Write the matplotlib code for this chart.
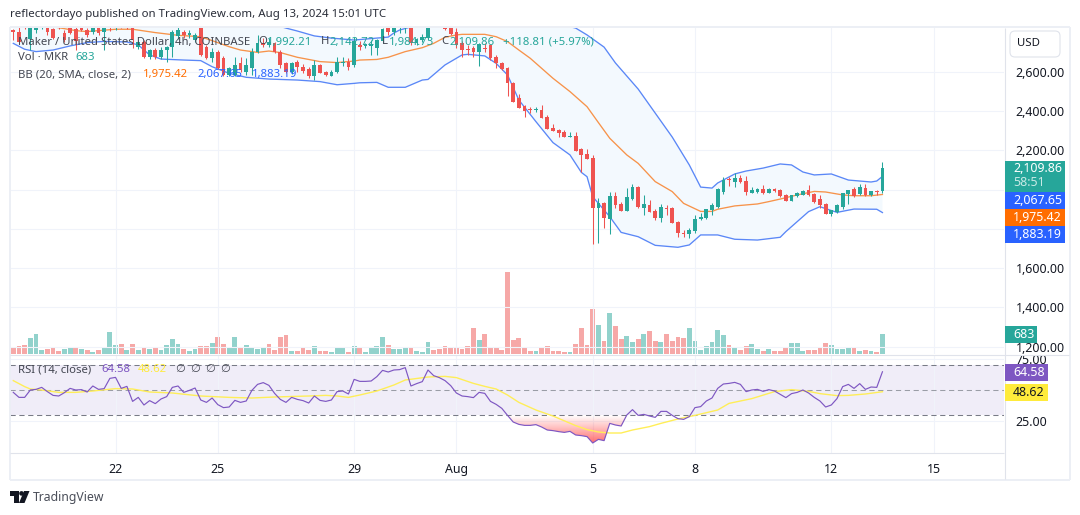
import numpy as np
import matplotlib
matplotlib.use('Agg')
import matplotlib.pyplot as plt
from matplotlib.patches import Rectangle, FancyBboxPatch, Polygon, Circle
from matplotlib.colors import LinearSegmentedColormap

plt.rcParams['font.family'] = ['Noto Sans', 'DejaVu Sans']

# MKR/USD 4h candles
opens = [2812,2806,2835,2767,2814,2825,2822,2817,2840,2797,
         2822,2817,2822,2814,2802,2822,2806,2832,2825,2835,
         2834,2828,2729,2755,2675,2712,2675,2712,2729,2784,
         2805,2788,2763,2822,2729,2670,2704,2670,2585,2585,
         2644,2602,2618,2704,2750,2738,2746,2704,2644,2602,
         2650,2627,2613,2580,2636,2602,2580,2602,2644,2650,
         2635,2740,2735,2733,2721,2760,2823,2806,2822,2822,
         2832,2750,2763,2772,2850,2845,2828,2822,2806,2746,
         2716,2720,2704,2722,2738,2675,2647,2619,2546,2466,
         2426,2408,2404,2406,2372,2314,2304,2292,2270,2275,
         2207,2182,2161,1908,1930,1849,1968,1927,1893,1954,
         2015,1908,1922,1893,1857,1906,1908,1837,1780,1774,
         1790,1849,1857,1896,1913,1990,2053,2041,2058,2046,
         1985,1990,2003,1985,2002,1998,1973,1944,1969,1974,
         1998,1978,1951,1925,1876,1886,1910,1978,2003,1978,
         2007,1971,1992,1992.21]
highs = [2820,2830,2840,2835,2831,2840,2830,2826,2848,2815,
         2835,2830,2828,2825,2830,2832,2830,2840,2845,2840,
         2842,2835,2760,2765,2715,2720,2725,2735,2812,2828,
         2815,2815,2800,2830,2740,2720,2712,2680,2625,2678,
         2678,2670,2720,2788,2775,2775,2755,2712,2650,2650,
         2660,2640,2625,2661,2640,2606,2610,2678,2678,2670,
         2780,2760,2750,2763,2768,2825,2835,2840,2840,2840,
         2845,2775,2795,2835,2860,2855,2835,2830,2822,2760,
         2738,2735,2750,2746,2745,2685,2652,2628,2550,2488,
         2432,2423,2420,2432,2379,2335,2308,2304,2296,2296,
         2212,2207,2177,1956,1935,1990,1990,1935,2007,2029,
         2020,1973,1947,1900,1925,1922,1912,1842,1794,1802,
         1871,1879,1900,1930,2010,2066,2066,2083,2075,2070,
         2015,2007,2024,2010,2007,2002,1977,1975,1990,1998,
         2024,1982,1971,1930,1897,1925,1985,2000,2015,2029,
         2027,1995,2000,2142.72]
lows = [2762,2745,2818,2712,2797,2820,2789,2768,2818,2755,
        2792,2712,2808,2780,2795,2789,2712,2810,2815,2822,
        2820,2720,2715,2670,2665,2668,2668,2652,2675,2770,
        2775,2775,2755,2680,2665,2652,2615,2580,2578,2578,
        2598,2585,2585,2695,2725,2725,2695,2618,2595,2590,
        2600,2593,2568,2559,2595,2578,2578,2595,2630,2610,
        2625,2710,2720,2687,2687,2750,2789,2789,2797,2797,
        2740,2738,2755,2765,2840,2830,2815,2790,2720,2675,
        2687,2675,2632,2704,2661,2622,2612,2479,2445,2415,
        2369,2392,2398,2365,2310,2298,2267,2268,2268,2198,
        2092,2155,1721,1729,1806,1772,1908,1890,1890,1947,
        1905,1871,1885,1845,1837,1871,1830,1760,1757,1755,
        1777,1845,1850,1871,1905,1978,2018,2015,2035,1973,
        1983,1985,1978,1984,1990,1965,1940,1940,1961,1971,
        1970,1932,1908,1875,1865,1882,1903,1927,1965,1973,
        1970,1967,1973,1984.73]
closes = [2805,2755,2826,2822,2822,2830,2806,2772,2830,2763,
          2797,2760,2815,2789,2822,2800,2822,2824,2838,2827,
          2826,2763,2754,2678,2712,2675,2712,2729,2806,2814,
          2788,2797,2789,2687,2670,2704,2618,2585,2618,2636,
          2610,2636,2704,2746,2738,2755,2704,2636,2602,2644,
          2627,2607,2580,2636,2597,2585,2602,2652,2652,2627,
          2760,2725,2742,2741,2763,2817,2806,2823,2826,2828,
          2746,2770,2780,2828,2845,2840,2818,2794,2738,2712,
          2712,2704,2743,2718,2670,2644,2615,2546,2449,2418,
          2403,2404,2408,2367,2311,2301,2290,2270,2274,2199,
          2177,2156,1908,1930,1854,1968,1922,1893,1964,2015,
          1910,1927,1888,1857,1910,1902,1832,1777,1776,1794,
          1850,1859,1900,1921,2003,2049,2048,2058,2038,1986,
          1998,2003,1985,2005,1995,1969,1944,1971,1981,1995,
          1974,1937,1920,1878,1896,1922,1984,1998,1969,2012,
          1973,1993,1988,2109.86]

# Bollinger bands, read at turning points
upper_idx = [0,20,45,46,48,50,53,56,60,64,66,67,68,70,72,85,96,99,101,104,106,110,116,119,121,123,124,127,129,132,135,137,139,141,144,147,151,152,153]
upper_val = [2960,2950,2850,2840,2824,2809,2784,2773,2763,2773,2778,2799,2814,2830,2840,2900,2845,2824,2789,2727,2646,2513,2268,2126,2013,2008,2034,2080,2095,2110,2131,2126,2090,2075,2080,2049,2039,2044,2067.65]
basis_idx = [0,5,9,11,13,15,18,21,25,29,33,35,38,40,43,45,47,50,54,57,60,61,64,66,69,72,74,76,78,79,83,85,87,89,91,93,95,98,101,103,105,108,110,113,116,118,121,123,124,127,131,133,135,138,141,143,146,148,151,153]
basis_val = [2860,2840,2821,2811,2806,2811,2818,2818,2801,2787,2780,2760,2729,2712,2700,2707,2699,2675,2653,2648,2656,2661,2664,2675,2704,2724,2746,2777,2789,2792,2792,2780,2755,2712,2670,2619,2568,2500,2423,2342,2262,2177,2134,2041,1990,1930,1889,1889,1900,1917,1927,1939,1952,1973,1991,1988,1973,1969,1969,1975.42]
lower_idx = [0,2,4,7,10,13,16,20,22,24,26,30,33,35,38,41,45,50,54,57,60,61,64,66,69,72,73,76,79,80,83,85,87,89,92,95,98,100,101,102,105,107,110,113,117,119,121,123,124,127,131,135,136,138,140,142,145,148,152,153]
lower_val = [2746,2716,2704,2712,2733,2750,2756,2753,2738,2687,2666,2661,2658,2627,2593,2573,2564,2559,2551,2535,2542,2545,2547,2522,2522,2559,2562,2636,2687,2690,2682,2644,2585,2457,2347,2240,2177,2088,2066,1964,1862,1782,1760,1716,1706,1718,1769,1769,1769,1747,1743,1757,1786,1837,1888,1913,1884,1901,1900,1883.19]

volume = [205,274,308,547,684,137,171,205,103,171,
          239,239,171,137,68,137,205,752,308,342,
          137,342,137,239,171,205,137,308,513,342,
          171,103,171,274,274,376,581,342,239,581,
          205,308,239,171,205,342,137,581,650,103,
          103,205,137,274,103,103,68,239,205,68,
          274,205,68,205,274,581,308,171,171,239,
          205,103,68,410,137,171,274,239,239,171,
          274,889,479,684,205,239,137,2804,479,547,
          239,103,103,205,274,103,103,68,68,342,
          889,308,1539,992,445,1402,958,513,616,410,
          513,684,787,445,410,684,445,581,547,889,
          445,137,274,410,821,650,308,239,137,274,
          342,171,103,171,103,103,205,376,376,103,
          137,137,205,376,308,171,171,239,205,103,
          137,103,68,683]
volume_dir = ''.join(['ddduuudddu','udududuuud','udududuuuu','duuddudduu','duuuuddddu',
                      'dddudduuud','uduuuuduuu','duuudddddd','dduddddddd','ddudddddud',
                      'dddududduu','dudduddddu','uuuuuududd','uududdduuu','dddduuuudu','dudu'])

rsi = [48.1,44.1,44.1,50,50.5,52.1,48.7,45.7,45.2,47.9,
       51.3,50,50.3,48.4,53.2,50.5,51.1,59.3,60.1,51.3,
       52.9,40.9,44.1,38,41.5,39.1,42.8,44.7,52.1,53.2,
       48.1,49.7,51.6,42,40.1,43.6,38.3,35.9,36.4,41.7,
       40.1,41.2,49.7,54.5,55.9,53.7,47.3,42.5,40.1,44.1,
       42.5,41.5,39.6,45.2,41.7,40.9,42,48.7,49.2,46.8,
       58.5,56.9,56.9,57.2,60.7,65.7,64.4,66,66.3,67.9,
       53.2,55.1,56.7,66,61.5,59.9,57.5,53.5,47.6,45.2,
       44.7,43.9,48.1,47.3,40.9,38.5,35.3,29.7,24.4,22.5,
       21.7,21.7,22.3,20.4,18,17.5,16.7,16.1,16.9,14,
       13.5,12.7,7.6,10.5,9.5,23.3,22,21.2,30,34.3,
       29.7,30.5,29.2,28.1,32.9,32.9,29.7,27.1,26.5,28.7,
       35.9,36.7,41.2,43.6,51.3,54.8,55.3,56.1,54.5,48.7,
       50,50.5,48.9,50.3,49.2,46.5,43.9,47.1,48.1,50,
       47.6,44.1,41.2,36.4,38,43.1,52.7,54.5,51.3,55.1,
       50.5,52.4,52.1,64.58]
rsi_ma_idx = [0,2,3,5,8,11,14,18,21,24,28,33,38,42,46,52,55,57,59,61,64,67,69,73,76,78,81,83,85,87,89,92,95,99,101,103,105,107,109,112,114,117,120,124,126,130,134,137,140,142,145,147,150,153]
rsi_ma_val = [57.5,52.7,50.8,50,48.1,48.1,49.2,51.1,50.8,48.4,47.6,45.2,44.1,43.6,44.4,45.2,45.7,45.2,44.1,46,49.2,54,58,60.4,60.9,59.9,55.3,52.9,50.8,46,40.1,34,29.2,21.5,18.3,16.4,15.6,15.6,18,20.7,23.3,26.8,29.7,34,39.3,43.1,48.7,50.3,48.9,47.1,45.5,45.7,46.8,48.62]

date_idx = [18,36,60,78,102,120,144,162]
date_labels = ['22','25','29','Aug','5','8','12','15']
price_ticks = [1200,1400,1600,1800,2000,2200,2400,2600]
# 1,800 and 2,000 sit behind the value tags, so they keep a grid line only
price_labels = ['1,200.00','1,400.00','1,600.00','','','2,200.00','2,400.00','2,600.00']

TEAL = '#26a69a'
RED = '#ef5350'
BLUE = '#5a87f7'
ORANGE = '#f7934a'
PURPLE = '#7e57c2'
YELLOW = '#ffee58'
TEXT = '#131722'
LEGEND = '#434651'
GRID = '#f0f3fa'
EDGE = '#e0e3eb'
AXIS_FS = 8.9
LEG = 8.15

W, H = 1080, 515
fig = plt.figure(figsize=(W/100, H/100), dpi=100, facecolor='white')

def pane(left, top, right, bottom, **kw):
    return fig.add_axes([left/W, 1-bottom/H, (right-left)/W, (bottom-top)/H], **kw)

x_lim = (-0.58, 174.4)
PL, PR = 10, 1004

# volume sits under the candles in its own scale
ax_vol = pane(PL, 28, PR, 354)
ax_vol.axis('off')
ax_vol.set_xlim(x_lim)
ax_vol.set_ylim(0, 11130)
xs = np.arange(len(closes))
vol_cols = [TEAL if d == 'u' else RED for d in volume_dir]
ax_vol.bar(xs, volume, width=0.85, color=vol_cols, alpha=0.5, linewidth=0)

ax = pane(PL, 28, PR, 354)
ax.patch.set_alpha(0)
ax.set_xlim(x_lim)
ax.set_ylim(1161.8, 2824.4)
ax.set_yticks(price_ticks)
ax.set_yticklabels(price_labels)
ax.yaxis.tick_right()
ax.set_xticks(date_idx)
ax.tick_params(axis='x', length=0, labelbottom=False)
ax.tick_params(axis='y', length=0, pad=8.5, labelsize=AXIS_FS, labelcolor=TEXT)
ax.grid(color=GRID, lw=0.8)
ax.set_axisbelow(True)
for s in ax.spines.values():
    s.set_visible(False)

band_x = list(upper_idx) + list(lower_idx[::-1])
band_y = list(upper_val) + list(lower_val[::-1])
ax.fill(band_x, band_y, color='#f3f9fe', lw=0, zorder=1)
ax.plot(upper_idx, upper_val, color=BLUE, lw=0.95, zorder=2)
ax.plot(lower_idx, lower_val, color=BLUE, lw=0.95, zorder=2)
ax.plot(basis_idx, basis_val, color=ORANGE, lw=0.95, zorder=2)

opens_a, closes_a = np.array(opens), np.array(closes)
candle_cols = [TEAL if c >= o else RED for o, c in zip(opens, closes)]
ax.vlines(xs, lows, highs, colors=candle_cols, lw=0.75, zorder=3)
ax.bar(xs, np.maximum(np.abs(closes_a-opens_a), 5), bottom=np.minimum(opens_a, closes_a),
       width=0.66, color=candle_cols, linewidth=0, zorder=4)

# RSI pane
ax_rsi = pane(PL, 355, PR, 453)
ax_rsi.patch.set_alpha(0)
rsi_ylim = (-0.4, 78)
ax_rsi.axhspan(30, 70, color='#f0edf8', lw=0, zorder=0)
ax_rsi.set_yticks([25, 75])
ax_rsi.set_yticklabels(['25.00', '75.00'])
ax_rsi.yaxis.tick_right()
ax_rsi.set_xticks(date_idx)
ax_rsi.set_xticklabels(date_labels)
ax_rsi.tick_params(axis='x', length=0, pad=7, labelsize=AXIS_FS, labelcolor=TEXT)
ax_rsi.tick_params(axis='y', length=0, pad=8.5, labelsize=AXIS_FS, labelcolor=TEXT)
ax_rsi.grid(color=GRID, lw=0.8)
ax_rsi.set_axisbelow(True)
for s in ax_rsi.spines.values():
    s.set_visible(False)
ax_rsi.axhline(70, color='#787b86', lw=0.75, dashes=(5, 3.5), zorder=1)
ax_rsi.axhline(50, color='#9a9da6', lw=0.75, dashes=(5, 3.5), zorder=1)
ax_rsi.axhline(30, color='#787b86', lw=0.75, dashes=(5, 3.5), zorder=1)

# oversold gradient under the 30 line
os_idx = list(range(87, 108))
os_verts = [(87, 30)] + [(i, rsi[i]) for i in os_idx] + [(108, 30)]
clip = Polygon(os_verts, closed=True, transform=ax_rsi.transData, fc='none', ec='none')
ax_rsi.add_patch(clip)
grad = LinearSegmentedColormap.from_list('os', [(1, 0.32, 0.32, 0.85), (1, 0.32, 0.32, 0.0)])
img = ax_rsi.imshow(np.linspace(0, 1, 64).reshape(-1, 1), cmap=grad, origin='lower', aspect='auto',
                    extent=(87, 108, 7, 30), zorder=1.5)
img.set_clip_path(clip)

ax_rsi.plot(rsi_ma_idx, rsi_ma_val, color=YELLOW, lw=1.0, zorder=2)
ax_rsi.plot(xs, rsi, color=PURPLE, lw=0.85, zorder=3)
ax_rsi.set_xlim(x_lim)
ax_rsi.set_ylim(rsi_ylim)

# overlay in pixel units for the frame, legends and value tags
ov = fig.add_axes([0, 0, 1, 1], zorder=10)
ov.set_xlim(0, W)
ov.set_ylim(H, 0)
ov.axis('off')
ov.patch.set_alpha(0)

for (x0, y0, x1, y1, lw, col) in [(9.5, 27, 1069.5, 27, 1.4, '#eceff5'), (9.5, 480, 1069.5, 480, 1.4, '#eceff5'),
                                  (9.5, 27, 9.5, 480, 1.4, '#eceff5'), (1069.5, 27, 1069.5, 480, 1.4, '#eceff5'),
                                  (10, 354.5, 1069, 354.5, 0.8, EDGE), (10, 452.5, 1004, 452.5, 0.8, EDGE),
                                  (1004.5, 28, 1004.5, 479, 0.8, EDGE)]:
    ov.plot([x0, x1], [y0, y1], color=col, lw=lw, solid_capstyle='butt')

ov.text(10, 15, 'reflectordayo published on TradingView.com, Aug 13, 2024 15:01 UTC', fontsize=8.25,
        color='#2a2e39', va='center')

ov.add_patch(FancyBboxPatch((1010, 31), 50, 26, boxstyle='round,pad=0,rounding_size=5', fc='white', ec=EDGE, lw=0.8))
ov.text(1028, 44, 'USD', fontsize=8.2, color=TEXT, ha='center', va='center')

ov.text(18, 42, 'Maker / United States Dollar, 4h, COINBASE', fontsize=LEG, color=LEGEND, va='center')
for x, s, c in [(258, 'O', LEGEND), (267, f'{opens[-1]:,.2f}', TEAL), (321, 'H', LEGEND), (329, f'{highs[-1]:,.2f}', TEAL),
                (382, 'L', LEGEND), (389, f'{lows[-1]:,.2f}', TEAL), (441, 'C', LEGEND), (449, f'{closes[-1]:,.2f}', TEAL),
                (503, '+118.81 (+5.97%)', TEAL)]:
    ov.text(x, 42, s, fontsize=LEG, color=c, va='center')
ov.text(18, 58, 'Vol · MKR', fontsize=LEG, color=LEGEND, va='center')
ov.text(75, 58, f'{volume[-1]}', fontsize=LEG, color=TEAL, va='center')
ov.text(18, 75, 'BB (20, SMA, close, 2)', fontsize=LEG, color=LEGEND, va='center')
ov.text(143, 75, f'{basis_val[-1]:,.2f}', fontsize=LEG, color='#ff6d00', va='center')
ov.text(197, 75, f'{upper_val[-1]:,.2f}', fontsize=LEG, color='#2962ff', va='center')
ov.text(252, 75, f'{lower_val[-1]:,.2f}', fontsize=LEG, color='#2962ff', va='center')
ov.text(18, 370, 'RSI (14, close)', fontsize=LEG, color=LEGEND, va='center')
ov.text(101, 370, f'{rsi[-1]:.2f}', fontsize=LEG, color=PURPLE, va='center')
ov.text(138, 370, f'{rsi_ma_val[-1]:.2f}', fontsize=LEG, color='#ffeb3b', va='center')
for x in (175, 190, 205, 220):
    ov.text(x, 370, '∅', fontsize=LEG, color=LEGEND, va='center')

def tag(y0, y1, col, txt, right=1065, tc='white'):
    ov.add_patch(Rectangle((1004.5, y0), right-1004.5, y1-y0, fc=col, ec='none', zorder=5))
    if txt:
        ov.text(1013, (y0+y1)/2, txt, fontsize=AXIS_FS, color=tc, va='center', zorder=6)

tag(161, 192, TEAL, '')
ov.text(1013, 169, f'{closes[-1]:,.2f}', fontsize=AXIS_FS, color='white', va='center', zorder=6)
ov.text(1013, 183, '58:51', fontsize=AXIS_FS, color='#c8e9e5', va='center', zorder=6)
tag(192, 209, '#2962ff', f'{upper_val[-1]:,.2f}')
tag(209, 226, '#ff6d00', f'{basis_val[-1]:,.2f}')
tag(226, 243, '#2962ff', f'{lower_val[-1]:,.2f}')
tag(326, 343, TEAL, f'{volume[-1]}', right=1037)
tag(364, 381, PURPLE, f'{rsi[-1]:.2f}', right=1048)
tag(384, 401, '#ffeb3b', f'{rsi_ma_val[-1]:.2f}', right=1048, tc=TEXT)

# footer logo
ov.add_patch(Polygon([(10, 491), (19, 491), (19, 503), (14, 503), (14, 496), (10, 496)], fc='#131722', ec='none'))
ov.add_patch(Circle((21.5, 493.4), 2.3, fc='#131722', ec='none'))
ov.add_patch(Polygon([(24, 491), (29.5, 491), (24.5, 503), (19, 503)], fc='#131722', ec='none'))
ov.text(33, 497, 'TradingView', fontsize=8.8, color='#4a4e59', va='center')

fig.savefig('out.png', dpi=100)
